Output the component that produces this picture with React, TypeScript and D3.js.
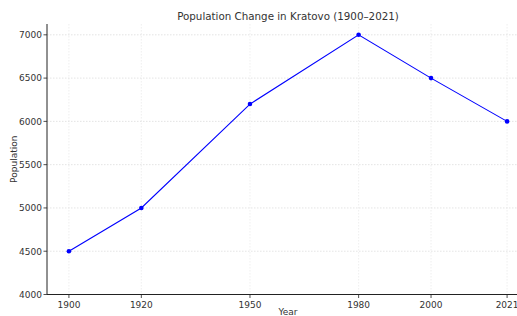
import React, { useEffect, useRef } from "react";
import * as d3 from "d3";

const years = [1900, 1920, 1950, 1980, 2000, 2021];
const population = [4500, 5000, 6200, 7000, 6500, 6000];
const yTicks = [4000, 4500, 5000, 5500, 6000, 6500, 7000];

const W = 517;
const H = 316;

export default function App() {
  const svgRef = useRef<SVGSVGElement>(null);

  useEffect(() => {
    const svg = d3.select(svgRef.current);
    svg.selectAll("*").remove();

    const left = 47, right = 529, top = 24, bottom = 294.5;
    const x = d3.scaleLinear().domain([1893.95, 2027.05]).range([left, right]);
    const y = d3.scaleLinear().domain([4000, 7125]).range([bottom, top]);

    const font = "DejaVu Sans, sans-serif";
    const data = years.map((yr, i) => ({ yr, v: population[i] }));

    const g = svg.append("g");

    // grid
    g.selectAll(".hgrid").data(yTicks.slice(1)).join("line")
      .attr("x1", left).attr("x2", right)
      .attr("y1", d => y(d)).attr("y2", d => y(d))
      .attr("stroke", "#d2d2d2").attr("stroke-width", 0.6)
      .attr("stroke-dasharray", "1.5,1.5");
    g.selectAll(".vgrid").data(years).join("line")
      .attr("x1", d => x(d)).attr("x2", d => x(d))
      .attr("y1", top).attr("y2", bottom)
      .attr("stroke", "#e4e4e4").attr("stroke-width", 0.6)
      .attr("stroke-dasharray", "1.5,1.5");

    // spines
    g.append("line").attr("x1", left).attr("x2", left).attr("y1", top).attr("y2", bottom)
      .attr("stroke", "#222").attr("stroke-width", 1);
    g.append("line").attr("x1", left).attr("x2", right).attr("y1", bottom).attr("y2", bottom)
      .attr("stroke", "#222").attr("stroke-width", 1);

    // y ticks
    g.selectAll(".yt").data(yTicks).join("line")
      .attr("x1", left - 3.5).attr("x2", left)
      .attr("y1", d => y(d)).attr("y2", d => y(d))
      .attr("stroke", "#222").attr("stroke-width", 0.8);
    g.selectAll(".yl").data(yTicks).join("text")
      .attr("x", left - 5).attr("y", d => y(d) + 3.3)
      .attr("text-anchor", "end").attr("font-family", font).attr("font-size", 9)
      .attr("fill", "#333").text(d => d);

    // x ticks
    g.selectAll(".xt").data(years).join("line")
      .attr("x1", d => x(d)).attr("x2", d => x(d))
      .attr("y1", bottom).attr("y2", bottom + 3.5)
      .attr("stroke", "#222").attr("stroke-width", 0.8);
    g.selectAll(".xl").data(years).join("text")
      .attr("x", d => x(d)).attr("y", bottom + 13)
      .attr("text-anchor", "middle").attr("font-family", font).attr("font-size", 9)
      .attr("fill", "#333").text(d => d);

    // line + markers
    const line = d3.line<{ yr: number; v: number }>().x(d => x(d.yr)).y(d => y(d.v));
    g.append("path").datum(data).attr("d", line)
      .attr("fill", "none").attr("stroke", "#0000ff").attr("stroke-width", 1.1);
    g.selectAll(".pt").data(data).join("circle")
      .attr("cx", d => x(d.yr)).attr("cy", d => y(d.v)).attr("r", 2.3)
      .attr("fill", "#0000ff");

    // labels
    svg.append("text").attr("x", (left + right) / 2).attr("y", 20)
      .attr("text-anchor", "middle").attr("font-family", font).attr("font-size", 10.3)
      .attr("fill", "#333").text("Population Change in Kratovo (1900–2021)");
    svg.append("text").attr("x", (left + right) / 2).attr("y", 315)
      .attr("text-anchor", "middle").attr("font-family", font).attr("font-size", 9)
      .attr("fill", "#333").text("Year");
    svg.append("text").attr("transform", `translate(17,${(top + bottom) / 2}) rotate(-90)`)
      .attr("text-anchor", "middle").attr("font-family", font).attr("font-size", 9)
      .attr("fill", "#333").text("Population");
  }, []);

  return (
    <svg ref={svgRef} width={W} height={H} style={{ position: "absolute", left: 0, top: 0 }} />
  );
}
